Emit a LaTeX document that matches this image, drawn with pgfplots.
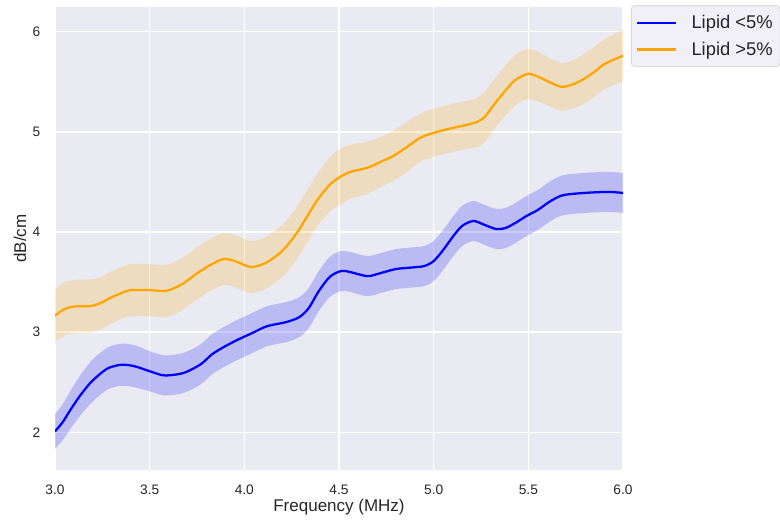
\documentclass[border=0pt]{standalone}
\usepackage{pgfplots}
\pgfplotsset{compat=1.18}
\usepackage{pgfplotstable}
\usepgfplotslibrary{fillbetween}
\usepackage{fontspec}
\setmainfont{Liberation Sans}
\definecolor{sbbg}{HTML}{EAEAF2}
\definecolor{sbtext}{HTML}{262626}
\definecolor{mplorange}{RGB}{255,165,0}

\pgfplotstableread{
x m lo hi
3.00 2.01 1.835 2.185
3.04 2.10 1.92 2.28
3.08 2.22 2.03 2.41
3.13 2.36 2.16 2.56
3.185 2.49 2.28 2.70
3.23 2.57 2.36 2.78
3.28 2.64 2.43 2.85
3.35 2.675 2.465 2.885
3.42 2.66 2.45 2.87
3.50 2.61 2.41 2.81
3.57 2.57 2.37 2.77
3.63 2.575 2.375 2.775
3.69 2.60 2.40 2.80
3.77 2.68 2.48 2.88
3.83 2.78 2.58 2.98
3.89 2.85 2.65 3.05
3.96 2.92 2.72 3.12
4.04 2.99 2.79 3.19
4.12 3.06 2.86 3.26
4.22 3.10 2.90 3.30
4.29 3.15 2.95 3.35
4.34 3.24 3.04 3.44
4.39 3.40 3.20 3.60
4.45 3.55 3.35 3.75
4.51 3.61 3.41 3.81
4.56 3.60 3.40 3.80
4.62 3.57 3.37 3.77
4.66 3.56 3.36 3.76
4.72 3.59 3.39 3.79
4.80 3.63 3.43 3.83
4.88 3.645 3.445 3.845
4.95 3.66 3.46 3.86
5.00 3.71 3.51 3.91
5.05 3.82 3.62 4.02
5.10 3.95 3.75 4.15
5.15 4.06 3.86 4.26
5.21 4.11 3.91 4.31
5.27 4.07 3.87 4.27
5.33 4.03 3.83 4.23
5.38 4.04 3.84 4.24
5.44 4.10 3.90 4.30
5.49 4.16 3.96 4.36
5.55 4.22 4.02 4.42
5.61 4.30 4.10 4.50
5.67 4.36 4.16 4.56
5.73 4.38 4.18 4.58
5.84 4.395 4.195 4.595
5.93 4.40 4.20 4.60
6.00 4.39 4.19 4.59
}\lowlipid

\pgfplotstableread{
x m lo hi
3.00 3.165 2.90 3.43
3.04 3.22 2.955 3.485
3.08 3.25 2.985 3.515
3.13 3.26 2.995 3.525
3.185 3.26 2.995 3.525
3.24 3.29 3.03 3.55
3.29 3.34 3.08 3.60
3.35 3.39 3.13 3.65
3.40 3.42 3.16 3.68
3.50 3.42 3.16 3.68
3.58 3.41 3.15 3.67
3.63 3.44 3.18 3.70
3.68 3.49 3.23 3.75
3.76 3.60 3.34 3.86
3.82 3.67 3.41 3.93
3.889 3.73 3.47 3.99
3.95 3.71 3.45 3.97
4.00 3.67 3.41 3.93
4.04 3.65 3.39 3.91
4.10 3.68 3.42 3.94
4.153 3.74 3.48 4.00
4.21 3.83 3.57 4.09
4.277 3.99 3.73 4.25
4.33 4.15 3.89 4.41
4.382 4.31 4.05 4.57
4.45 4.47 4.20 4.74
4.506 4.55 4.27 4.83
4.56 4.60 4.33 4.87
4.647 4.64 4.38 4.90
4.72 4.70 4.45 4.95
4.787 4.76 4.51 5.01
4.86 4.85 4.60 5.10
4.928 4.94 4.70 5.18
5.00 4.99 4.75 5.23
5.08 5.03 4.79 5.27
5.175 5.07 4.83 5.31
5.23 5.10 4.85 5.34
5.27 5.15 4.90 5.40
5.31 5.25 5.00 5.50
5.36 5.37 5.12 5.62
5.42 5.50 5.25 5.75
5.46 5.55 5.30 5.80
5.50 5.58 5.33 5.83
5.54 5.56 5.31 5.81
5.58 5.525 5.28 5.77
5.63 5.48 5.24 5.72
5.676 5.45 5.21 5.69
5.73 5.47 5.23 5.71
5.79 5.525 5.28 5.77
5.85 5.60 5.35 5.85
5.896 5.67 5.42 5.92
5.95 5.72 5.47 5.97
6.00 5.76 5.50 6.02
}\highlipid

\begin{document}
\begin{tikzpicture}
\begin{axis}[
  name=ax,
  scale only axis,
  width=426pt, height=347pt,
  xmin=3, xmax=6, ymin=1.624, ymax=6.243,
  axis background/.style={fill=sbbg},
  axis line style={draw=none},
  major tick length=0pt,
  grid=major,
  major grid style={white, line width=1.1pt},
  xtick={3,3.5,4,4.5,5,5.5,6},
  ytick={2,3,4,5,6},
  xticklabel style={/pgf/number format/.cd, fixed, fixed zerofill, precision=1},
  /pgf/number format/assume math mode=true,
  tick label style={font=\fontsize{10.3}{12}\selectfont, text=sbtext},
  xticklabel shift=7.5pt,
  yticklabel shift=7.5pt,
  label style={font=\fontsize{12.75}{15}\selectfont, text=sbtext},
  xlabel={Frequency (MHz)},
  ylabel={dB/cm},
  xlabel style={at={(axis description cs:0.5,-0.08)}, anchor=center},
  ylabel style={at={(axis description cs:-0.0616,0.5)}, anchor=center},
  legend style={at={(1.014,1.004)}, anchor=north west, fill=sbbg!70!white, draw=black!20,
    rounded corners=2.5pt, font=\fontsize{13.8}{16}\selectfont, text=sbtext,
    inner xsep=3.5pt, inner ysep=5pt, row sep=4.5pt},
  legend cell align=left,
  legend image code/.code={\draw[#1, line width=1.7pt] (0pt,0pt) -- (29pt,0pt); \path (38pt,0pt);},
]
\addplot[name path=bu, draw=none, smooth, forget plot] table[x=x, y=hi] {\lowlipid};
\addplot[name path=bl, draw=none, smooth, forget plot] table[x=x, y=lo] {\lowlipid};
\addplot[fill=blue, fill opacity=0.2, draw=none, forget plot] fill between[of=bu and bl];
\addplot[name path=ou, draw=none, smooth, forget plot] table[x=x, y=hi] {\highlipid};
\addplot[name path=ol, draw=none, smooth, forget plot] table[x=x, y=lo] {\highlipid};
\addplot[fill=mplorange, fill opacity=0.2, draw=none, forget plot] fill between[of=ou and ol];
\addplot[blue, line width=1.7pt, smooth] table[x=x, y=m] {\lowlipid};
\addlegendentry{Lipid <5\%}
\addplot[mplorange, line width=1.7pt, smooth] table[x=x, y=m] {\highlipid};
\addlegendentry{Lipid >5\%}
\end{axis}
\pgfresetboundingbox
\path[use as bounding box] ([xshift=-41.25pt,yshift=-39.75pt]ax.south west) rectangle ([xshift=117.75pt,yshift=5.5pt]ax.north east);
\end{tikzpicture}
\end{document}
